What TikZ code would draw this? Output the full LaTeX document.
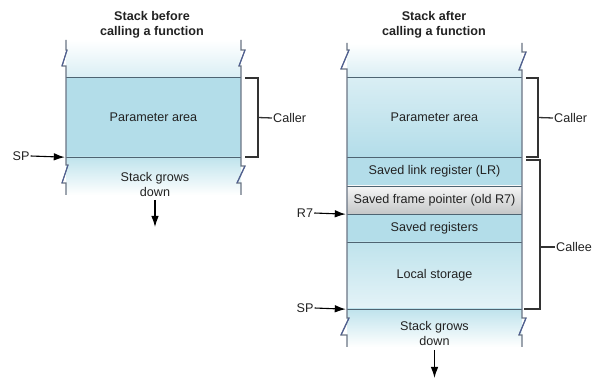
\documentclass[tikz,border=0pt]{standalone}
\usepackage{fontspec}
\setmainfont{Liberation Sans}
\usetikzlibrary{arrows.meta}
\definecolor{stackblue}{HTML}{B3DDE9}
\definecolor{paleblue}{HTML}{D9EEF4}
\definecolor{lowblue}{HTML}{BFE3EC}
\definecolor{fptop}{HTML}{F6F6F6}
\definecolor{fpbot}{HTML}{C4C6C7}
\definecolor{sepcol}{HTML}{4E6472}
\definecolor{edgecol}{HTML}{6A7484}
\definecolor{zigcol}{HTML}{4F5F92}
\definecolor{txt}{HTML}{222222}
\begin{document}
\begin{tikzpicture}[x=1pt,y=-1pt,
  font=\fontsize{12.6}{15}\selectfont,
  region/.style={rectangle,inner sep=0pt,minimum width=175pt,draw=none,text=txt,align=center},
  sep/.style={draw=sepcol,line width=1.2pt},
  edge/.style={draw=edgecol,line width=1.1pt},
  bracket/.style={draw=black!80,line width=1.3pt},
  lab/.style={inner sep=1pt,text=txt},
  title/.style={font=\fontsize{12.6}{15.5}\selectfont\bfseries,align=center,text=txt},
  ptr/.style={draw=black,line width=1.1pt,-{Latex[length=11pt,width=7.5pt]}}
]
\useasboundingbox (0,0) rectangle (598,379);

% ---------- left stack ----------
\node[title] (tl) at (152,25) {Stack before\\calling a function};
\node[region,top color=white,bottom color=paleblue,minimum height=38pt] (ltop) at (153.5,59) {};
\node[region,fill=stackblue,minimum height=79pt] (lparam) at (153.5,117.5) {Parameter area};
\node[region,top color=lowblue,bottom color=white,minimum height=38pt] (lbot) at (153.5,176) {};
\node[region,text=txt] (lgrow) at (155,184.5) {Stack grows\\down};

\draw[sep] (lparam.north west) -- (lparam.north east);
\draw[sep] (lparam.south west) -- (lparam.south east);

\draw[edge] (66,40)--(66,50)--(67,50)--(62,66)--(66,66)--(66,165)--(68,165)--(62,183)--(66,183)--(66,195);
\draw[edge] (241,40)--(241,50)--(245,50)--(239,66)--(241,66)--(241,166)--(245,166)--(237,183)--(241,183)--(241,195);
\draw[zigcol,line width=1.1pt] (67,50)--(62,66) (68,165)--(62,183) (245,50)--(239,66) (245,166)--(237,183);

% caller bracket (left)
\node[lab,anchor=west] (callerL) at (272,118) {Caller};
\coordinate (bL) at (258,117.5);
\draw[bracket] (245,78)--(258,78)--(258,157)--(245,157);
\draw[bracket] (bL) -- (callerL.west);

% SP left
\node[lab] (spL) at (21,156) {SP};
\draw[ptr] (spL.east) -- ([xshift=-1pt]lparam.south west);

% grows down arrow left
\coordinate (dL1) at (155,200);
\coordinate (dL2) at (155,227);
\draw[ptr] (dL1) -- (dL2);

% ---------- right stack ----------
\node[title] (tr) at (434,25) {Stack after\\calling a function};
\node[region,top color=white,bottom color=paleblue,minimum height=35pt] (rtop) at (434.5,60.5) {};
\node[region,top color=paleblue,bottom color=stackblue,minimum height=79pt] (rparam) at (434.5,117.5) {Parameter area};
\node[region,fill=stackblue,minimum height=29pt] (rlr) at (434.5,171.5) {Saved link register (LR)};
\node[region,top color=fptop,bottom color=fpbot,minimum height=28pt] (rfp) at (434.5,200) {Saved frame pointer (old R7)};
\node[region,fill=stackblue,minimum height=28pt] (rsr) at (434.5,228) {Saved registers};
\node[region,top color=lowblue,bottom color=paleblue!70!white,minimum height=67pt] (rls) at (434.5,275.5) {Local storage};
\node[region,top color=lowblue,bottom color=white,minimum height=38pt] (rbot) at (434.5,328) {};
\node[region] (rgrow) at (434.5,333) {Stack grows\\down};

\draw[sep] (rparam.north west) -- (rparam.north east);
\draw[sep] (rparam.south west) -- (rparam.south east);
\draw[sep] (rlr.south west) -- (rlr.south east);
\draw[sep] (rfp.south west) -- (rfp.south east);
\draw[sep] (rsr.south west) -- (rsr.south east);
\draw[sep] (rls.south west) -- (rls.south east);

\draw[edge] (347,43)--(347,50)--(349,50)--(341,69)--(347,69)--(347,318)--(349,318)--(341,335)--(347,335)--(347,347);
\draw[edge] (522,43)--(522,52)--(526,52)--(519,70)--(522,70)--(522,318)--(526,318)--(519,335)--(522,335)--(522,347);
\draw[zigcol,line width=1.1pt] (349,50)--(341,69) (349,318)--(341,335) (526,52)--(519,70) (526,318)--(519,335);

% caller bracket (right)
\node[lab,anchor=west] (callerR) at (553,118) {Caller};
\coordinate (bR) at (538,117.5);
\draw[bracket] (526,78)--(538,78)--(538,157)--(526,157);
\draw[bracket] (bR) -- (callerR.west);

% callee bracket
\node[lab,anchor=west] (callee) at (555,247) {Callee};
\coordinate (bC) at (540,247);
\draw[bracket] (526,160)--(540,160)--(540,309)--(524,309);
\draw[bracket] (bC) -- (callee.west);

% R7 and SP right
\node[lab] (r7) at (305,213) {R7};
\draw[ptr] (r7.east) -- ([xshift=-1pt]rfp.south west);
\node[lab] (spR) at (305,308) {SP};
\draw[ptr] (spR.east) -- ([xshift=-1pt]rls.south west);

% grows down arrow right
\coordinate (dR1) at (434.5,350);
\coordinate (dR2) at (434.5,378);
\draw[ptr] (dR1) -- (dR2);
\end{tikzpicture}
\end{document}
